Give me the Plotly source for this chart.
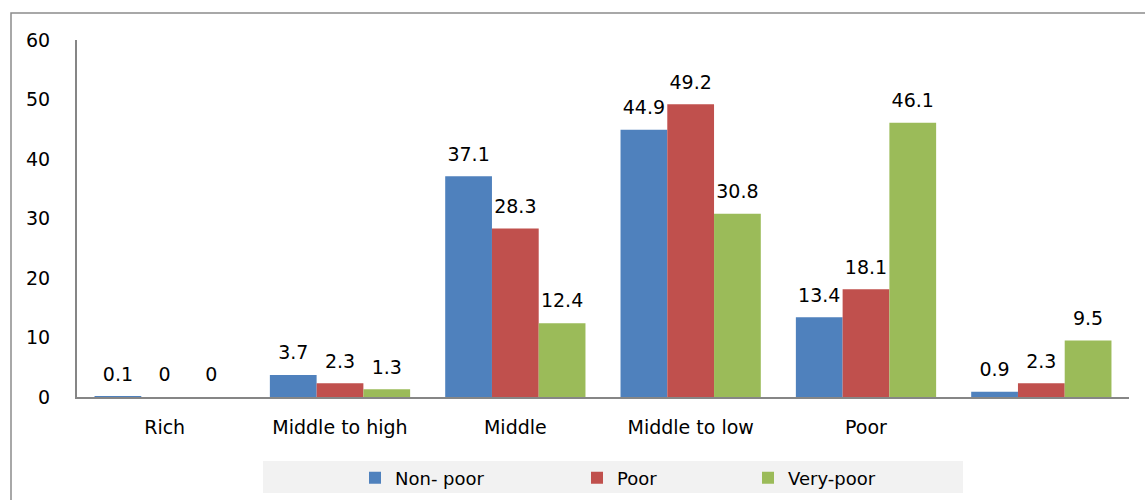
import plotly.graph_objects as go

categories = ["Rich", "Middle to high", "Middle", "Middle to low", "Poor", " "]
non_poor = [0.1, 3.7, 37.1, 44.9, 13.4, 0.9]
poor = [0, 2.3, 28.3, 49.2, 18.1, 2.3]
very_poor = [0, 1.3, 12.4, 30.8, 46.1, 9.5]
series_names = ["Non- poor", "Poor", "Very-poor"]
colors = ["#4F81BD", "#C0504D", "#9BBB59"]
y_ticks = [0, 10, 20, 30, 40, 50, 60]

FONT = "DejaVu Sans"
W, H = 1145, 500
ml, mr, mt, mb = 77, 16, 40, 103
pw = W - ml - mr
ph = H - mt - mb

def px_x(p):
    return (p - ml) / pw

def px_y(p):
    return (H - mb - p) / ph

legend_keys = ["legend", "legend2", "legend3"]
legend_sym_px = [385, 607, 778]

fig = go.Figure()
for i, (name, vals, col, lk) in enumerate(zip(series_names, [non_poor, poor, very_poor], colors, legend_keys)):
    fig.add_trace(go.Bar(
        x=categories, y=vals, name=name, legend=lk,
        offsetgroup=str(i), alignmentgroup="a",
        marker=dict(color=col, line=dict(width=0)),
    ))
for i, vals in enumerate([non_poor, poor, very_poor]):
    fig.add_trace(go.Scatter(
        x=categories, y=vals, mode="markers+text",
        offsetgroup=str(i), alignmentgroup="a",
        marker=dict(size=16, opacity=0),
        text=[f"{v:g}" for v in vals],
        textposition="top center",
        textfont=dict(family=FONT, size=19, color="#000000"),
        showlegend=False, hoverinfo="skip", cliponaxis=False,
    ))

legend_common = dict(
    orientation="h", xanchor="left", yanchor="middle",
    y=px_y(478), bgcolor="rgba(0,0,0,0)",
    font=dict(family=FONT, size=18, color="#000000"),
    itemwidth=30,
)
legends = {}
for lk, sx in zip(legend_keys, legend_sym_px):
    legends[lk] = dict(legend_common, x=px_x(sx - 30))

fig.update_layout(
    width=W, height=H,
    margin=dict(l=ml, r=mr, t=mt, b=mb, pad=0, autoexpand=False),
    paper_bgcolor="white", plot_bgcolor="white",
    barmode="group", bargap=0.2, bargroupgap=0,
    scattermode="group",
    font=dict(family=FONT, size=19, color="#000000"),
    showlegend=True,
    shapes=[
        dict(type="rect", xref="paper", yref="paper",
             x0=px_x(11), x1=px_x(1160), y0=px_y(13), y1=px_y(520),
             line=dict(color="#8c8c8c", width=1.5), fillcolor="rgba(0,0,0,0)", layer="below"),
        dict(type="rect", xref="paper", yref="paper",
             x0=px_x(263), x1=px_x(963), y0=px_y(493), y1=px_y(461),
             line=dict(width=0), fillcolor="#F2F2F2", layer="below"),
    ],
    **legends,
)
fig.update_xaxes(
    showline=True, linecolor="#868686", linewidth=2, automargin=False,
    showgrid=False, ticks="", ticklabelstandoff=12,
    tickfont=dict(family=FONT, size=19),
)
fig.update_yaxes(
    range=[0, 60], tickvals=y_ticks, showline=True, linecolor="#868686", linewidth=2,
    automargin=False,
    showgrid=False, zeroline=False, ticks="", ticklabelstandoff=21,
    tickfont=dict(family=FONT, size=19),
)
fig.write_html("out.html")
